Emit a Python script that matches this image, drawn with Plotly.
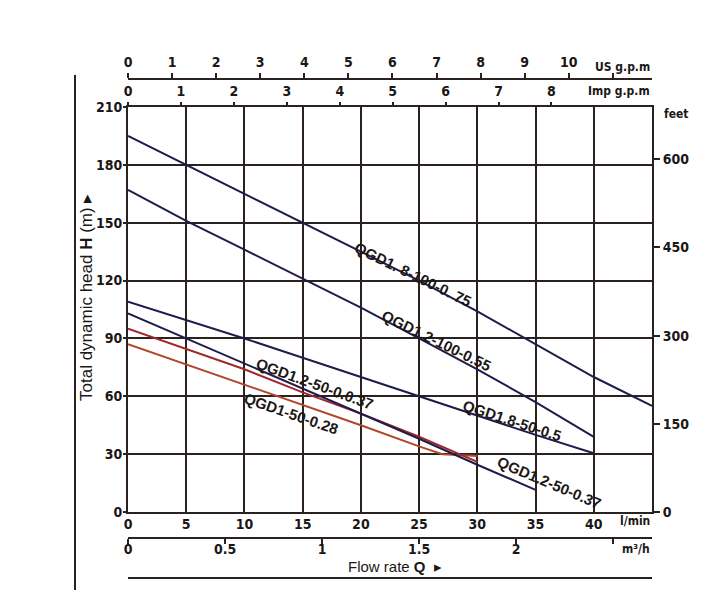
import plotly.graph_objects as go

# ---------------- data ----------------
flow_a = [0, 5, 10, 15, 20, 25, 30, 35, 40, 45]
head_18_100_075 = [195, 180, 165, 150, 135, 120, 104, 87, 70, 55]

flow_b = [0, 5, 10, 15, 20, 25, 30, 35, 40]
head_12_100_055 = [167, 151, 136, 121, 106, 90, 74, 57, 39]

flow_c = [0, 5, 10, 15, 20, 25, 30, 35, 40]
head_18_50_05 = [109, 99.5, 90, 80, 70, 60, 50, 40, 30.5]

flow_d = [0, 5, 10, 15, 20, 25, 30, 35]
head_12_50_037 = [103, 90, 77, 64, 51, 38, 24.5, 11.5]

flow_e = [0, 5, 10, 15, 20, 25, 30]
head_12_50_0037 = [95, 84.5, 74, 62, 51, 39, 26]

flow_f = [0, 5, 10, 15, 20, 25, 27, 30]
head_1_50_028 = [87, 76.5, 66, 55.5, 45, 34, 30, 29]

x_ticks = [0, 5, 10, 15, 20, 25, 30, 35, 40]
y_ticks = [0, 30, 60, 90, 120, 150, 180, 210]
feet_ticks = [0, 150, 300, 450, 600]
us_ticks = list(range(12))
us_labels = [str(i) for i in range(11)] + [""]
imp_ticks = list(range(9))
m3_ticks = [0, 0.5, 1, 1.5, 2, 2.5]
m3_labels = ["0", "0.5", "1", "1.5", "2", ""]

labels = [
    ("QGD1. 8-100-0. 75", 24.5, 123, 26),
    ("QGD1.2-100-0.55", 26.5, 89, 26),
    ("QGD1.2-50-0.0.37", 16.0, 66.5, 20),
    ("QGD1-50-0.28", 14.0, 51, 19),
    ("QGD1.8-50-0.5", 33.0, 47.5, 18),
    ("QGD1.2-50-0.37", 36.2, 15.5, 23),
]

# ---------------- styling ----------------
FONT = "Liberation Sans, Arial, sans-serif"
NARROW = "Liberation Sans Narrow, DejaVu Sans Condensed, Liberation Sans, sans-serif"
INK = "#1b1716"
GRID = "#2b2220"
BLUE = "#1f1c4c"
RED1 = "#a3262c"
RED2 = "#b0472b"

X_MAX = 45
Y_MAX = 210
M_TO_FT = 3.28084
US_GPM = 3.7854
IMP_GPM = 4.5461

fig = go.Figure()

curves = [
    (flow_a, head_18_100_075, BLUE),
    (flow_b, head_12_100_055, BLUE),
    (flow_c, head_18_50_05, BLUE),
    (flow_f, head_1_50_028, RED2),
    (flow_e, head_12_50_0037, RED1),
    (flow_d, head_12_50_037, BLUE),
]
for xs, ys, col in curves:
    fig.add_trace(go.Scatter(x=xs, y=ys, mode="lines",
                             line=dict(color=col, width=2),
                             hoverinfo="skip", showlegend=False))

# dummy traces so the extra axes are drawn
for xa, ya in [("x", "y2"), ("x3", "y"), ("x4", "y"), ("x5", "y")]:
    fig.add_trace(go.Scatter(x=[0], y=[0], xaxis=xa, yaxis=ya, mode="markers",
                             marker=dict(opacity=0), hoverinfo="skip",
                             showlegend=False))

# paper geometry: margins t=60, b=20 -> paper height 529 px
H_PAPER = 529.0
TOP_PX = 60.0


def py(px):
    return (TOP_PX + H_PAPER - px) / H_PAPER


def pxx(px):
    return (px - 128.0) / 524.0


tickfont = dict(family=NARROW, size=14, color=INK, weight="bold")

fig.update_layout(
    width=720, height=609,
    margin=dict(l=128, r=68, t=60, b=20),
    paper_bgcolor="white", plot_bgcolor="white",
    showlegend=False,
    font=dict(family=FONT, color=INK),
    xaxis=dict(domain=[0, 1], range=[0, X_MAX], tickvals=x_ticks,
               showgrid=True, gridcolor=GRID, gridwidth=2,
               showline=True, linecolor=GRID, linewidth=2, mirror=True,
               ticks="", tickfont=tickfont, zeroline=False, anchor="y",
               ticklabelstandoff=-2),
    yaxis=dict(domain=[py(512), py(107)], range=[0, Y_MAX], tickvals=y_ticks,
               showgrid=True, gridcolor=GRID, gridwidth=2,
               showline=True, linecolor=GRID, linewidth=2, mirror=True,
               ticks="outside", ticklen=3, tickwidth=1.5, tickcolor=GRID,
               tickfont=tickfont, zeroline=False, anchor="x",
               ticklabelstandoff=-2),
    yaxis2=dict(overlaying="y", side="right", anchor="x",
                range=[0, Y_MAX * M_TO_FT], tickvals=feet_ticks,
                showgrid=False, showline=True, linecolor=GRID, linewidth=2,
                ticks="outside", ticklen=6, tickwidth=1.5, tickcolor=GRID,
                tickfont=tickfont, zeroline=False),
    xaxis3=dict(overlaying="x", side="top", anchor="free", position=py(79),
                range=[0, X_MAX / US_GPM], tickvals=us_ticks, ticktext=us_labels,
                showgrid=False, showline=True, linecolor=GRID, linewidth=2,
                ticks="outside", ticklen=5, tickwidth=1.5, tickcolor=GRID,
                tickfont=tickfont, zeroline=False),
    xaxis4=dict(overlaying="x", side="top", anchor="free", position=py(107),
                range=[0, X_MAX / IMP_GPM], tickvals=imp_ticks,
                showgrid=False, showline=False,
                ticks="outside", ticklen=5, tickwidth=1.5, tickcolor=GRID,
                tickfont=tickfont, zeroline=False),
    xaxis5=dict(overlaying="x", side="bottom", anchor="free", position=py(538),
                range=[0, X_MAX * 0.06], tickvals=m3_ticks, ticktext=m3_labels,
                showgrid=False, showline=True, linecolor=GRID, linewidth=2,
                ticks="outside", ticklen=5, tickwidth=1.5, tickcolor=GRID,
                tickfont=tickfont, zeroline=False, ticklabelstandoff=-7),
)

# curve labels
for txt, x, y, ang in labels:
    fig.add_annotation(x=x, y=y, xref="x", yref="y", text=txt, showarrow=False,
                       textangle=ang, xanchor="center", yanchor="middle",
                       font=dict(family=FONT, size=15, color=INK, weight="bold"))

# unit labels and titles
small = dict(family=NARROW, size=12, color=INK, weight="bold")


def note(text, xp, yp, xanchor="center", font=small, angle=0):
    fig.add_annotation(xref="paper", yref="paper", x=xp, y=yp, text=text,
                       showarrow=False, xanchor=xanchor, yanchor="middle",
                       textangle=angle, font=font)


note("US g.p.m", 1.0, py(67), "right")
note("Imp g.p.m", 1.0, py(91), "right")
note("feet", pxx(662), py(114), "left")
note("l/min", 1.0, py(521), "right")
note("m³/h", 1.0, py(549), "right")
note("Flow rate <b>Q</b>  ▸", pxx(395), py(566), "center",
     dict(family=FONT, size=15, color=INK))
note("Total dynamic head <b>H</b> (m) ▸", pxx(86), py(298), "center",
     dict(family=FONT, size=17, color=INK), -90)

# decorative rules
fig.add_shape(type="line", xref="paper", yref="paper", x0=0, x1=1,
              y0=py(578), y1=py(578), line=dict(color=GRID, width=2))
fig.add_shape(type="line", xref="paper", yref="paper", x0=pxx(75), x1=pxx(75),
              y0=py(75), y1=py(590), line=dict(color=GRID, width=2))

fig.write_html("out.html")
